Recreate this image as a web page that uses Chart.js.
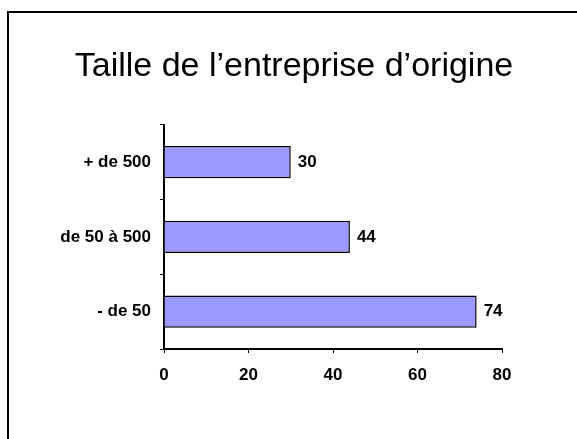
<!DOCTYPE html>
<html>
<head>
<meta charset="utf-8">
<script src="https://cdn.jsdelivr.net/npm/chart.js@4/dist/chart.umd.min.js"></script>
<style>
    html, body { margin: 0; padding: 0; background: #fff; }
    #wrap { position: relative; width: 577px; height: 439px; overflow: hidden; }
    #frame { position: absolute; left: 7px; top: 11px; width: 700px; height: 600px; border: 2px solid #000; }
    canvas { position: absolute; left: 0; top: 0; }
</style>
</head>
<body>
<div id="wrap">
    <div id="frame"></div>
    <canvas id="chart" width="577" height="439"></canvas>
</div>
<script>
// données du graphique
const categories = ['+ de 500', 'de 50 à 500', '- de 50'];
const values = [30, 44, 74];
const axisTicks = [0, 20, 40, 60, 80];

const FONT = '"Liberation Sans", Arial, sans-serif';

// étiquettes de valeurs au bout des barres
const valueLabels = {
    id: 'valueLabels',
    afterDatasetsDraw(chart) {
        const ctx = chart.ctx;
        const meta = chart.getDatasetMeta(0);
        ctx.save();
        ctx.font = 'bold 17px ' + FONT;
        ctx.fillStyle = '#000';
        ctx.textAlign = 'left';
        ctx.textBaseline = 'middle';
        meta.data.forEach((bar, i) => {
            ctx.fillText(String(values[i]), bar.x + 7, bar.y);
        });
        ctx.restore();
    }
};

// le titre est centré un peu à droite dans l'original (centre ~294px)
const shiftTitle = {
    id: 'shiftTitle',
    afterLayout(chart) {
        const t = chart.titleBlock;
        if (t) {
            t.left = 294 - 250;
            t.right = 294 + 250;
            t.width = 500;
        }
    }
};

new Chart(document.getElementById('chart'), {
    type: 'bar',
    data: {
        labels: categories,
        datasets: [{
            data: values,
            backgroundColor: '#9999FF',
            borderColor: '#000',
            borderWidth: 1.5,
            categoryPercentage: 1,
            barPercentage: 0.43
        }]
    },
    options: {
        indexAxis: 'y',
        responsive: false,
        animation: false,
        layout: { padding: { left: 60, right: 75, top: 0, bottom: 54 } },
        plugins: {
            legend: { display: false },
            tooltip: { enabled: false },
            title: {
                display: true,
                text: 'Taille de l’entreprise d’origine',
                color: '#000',
                font: { family: FONT, size: 34, weight: 'normal', lineHeight: 1.2 },
                padding: { top: 46, bottom: 38 }
            }
        },
        scales: {
            x: {
                min: 0,
                max: 80,
                afterBuildTicks: scale => {
                    scale.ticks = axisTicks.map(v => ({ value: v }));
                },
                afterFit: scale => { scale.height = 36; },
                grid: { drawOnChartArea: false, color: '#000', tickLength: 4, lineWidth: 1 },
                border: { display: true, color: '#000', width: 2 },
                ticks: {
                    color: '#000',
                    padding: 12,
                    font: { family: FONT, size: 17, weight: 'bold' }
                }
            },
            y: {
                afterFit: scale => { scale.width = 104; },
                grid: { drawOnChartArea: false, color: '#000', tickLength: 4, lineWidth: 1 },
                border: { display: true, color: '#000', width: 2 },
                ticks: {
                    color: '#000',
                    padding: 9,
                    font: { family: FONT, size: 17, weight: 'bold' }
                }
            }
        }
    },
    plugins: [valueLabels, shiftTitle]
});
</script>
</body>
</html>
